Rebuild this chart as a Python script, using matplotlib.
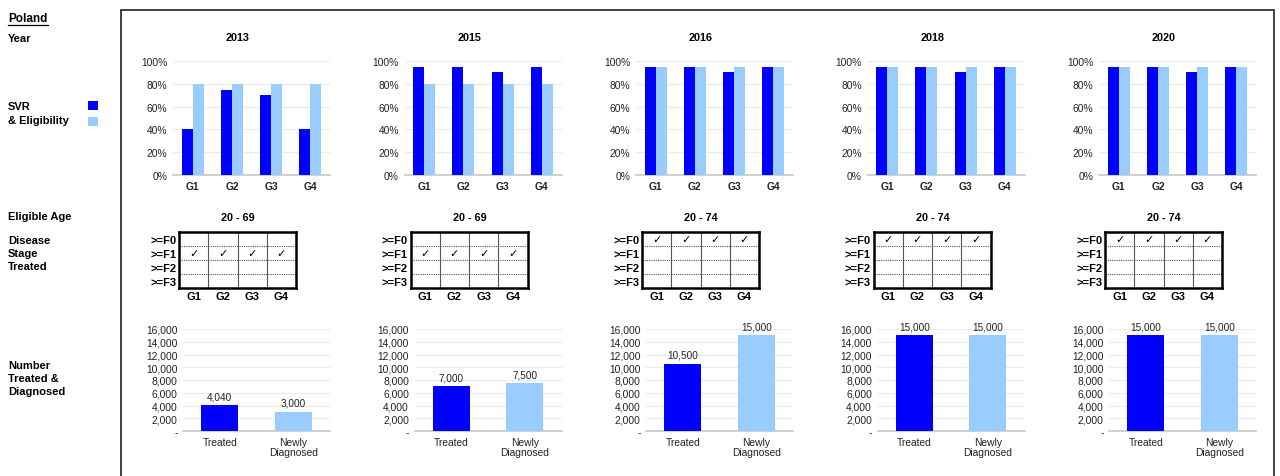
import matplotlib
matplotlib.use("Agg")
import matplotlib.pyplot as plt
from matplotlib.patches import Rectangle
from matplotlib.lines import Line2D
from matplotlib.ticker import FuncFormatter

# data
years = ["2013", "2015", "2016", "2018", "2020"]
groups = ["G1", "G2", "G3", "G4"]
svr = [
    [40, 75, 70, 40],
    [95, 95, 90, 95],
    [95, 95, 90, 95],
    [95, 95, 90, 95],
    [95, 95, 90, 95],
]
eligibility = [
    [80, 80, 80, 80],
    [80, 80, 80, 80],
    [95, 95, 95, 95],
    [95, 95, 95, 95],
    [95, 95, 95, 95],
]
eligible_age = ["20 - 69", "20 - 69", "20 - 74", "20 - 74", "20 - 74"]
stages = [">=F0", ">=F1", ">=F2", ">=F3"]
stage_treated = [">=F1", ">=F1", ">=F0", ">=F0", ">=F0"]
count_labels = ["Treated", "Newly\nDiagnosed"]
treated = [4040, 7000, 10500, 15000, 15000]
diagnosed = [3000, 7500, 15000, 15000, 15000]

DARK = "#0000ff"
LIGHT = "#99ccff"
FONT = ["Liberation Sans", "DejaVu Sans"]
plt.rcParams["font.family"] = FONT

W, H = 1280, 477
fig = plt.figure(figsize=(W / 100, H / 100), dpi=100)


def px_axes(x0, y0, x1, y1):
    # pixel box (top-left origin) -> figure axes
    return fig.add_axes([x0 / W, 1 - y1 / H, (x1 - x0) / W, (y1 - y0) / H])


def fx(x):
    return x / W


def fy(y):
    return 1 - y / H


# frame around the panels
fig.add_artist(Rectangle((fx(121), -0.05), fx(1274) - fx(121), fy(11) + 0.05,
                         transform=fig.transFigure, fill=False,
                         edgecolor="#333333", linewidth=1.3))

# left side labels
fig.text(fx(8), fy(19), "Poland", fontsize=8.5, fontweight="bold", va="center")
fig.add_artist(Line2D([fx(8), fx(48)], [fy(26), fy(26)], color="black", linewidth=0.9,
                      transform=fig.transFigure))
fig.text(fx(8), fy(39), "Year", fontsize=8, fontweight="bold", va="center")
fig.text(fx(8), fy(114), "SVR\n& Eligibility", fontsize=8, fontweight="bold",
         va="center", linespacing=1.47)
fig.add_artist(Rectangle((fx(88), fy(111)), 10 / W, 9 / H, transform=fig.transFigure,
                         facecolor=DARK, edgecolor="none"))
fig.add_artist(Rectangle((fx(88), fy(127)), 10 / W, 9 / H, transform=fig.transFigure,
                         facecolor=LIGHT, edgecolor="none"))
fig.text(fx(8), fy(217), "Eligible Age", fontsize=8, fontweight="bold", va="center")
fig.text(fx(8), fy(254), "Disease\nStage\nTreated", fontsize=8, fontweight="bold",
         va="center", linespacing=1.32)
fig.text(fx(8), fy(379), "Number\nTreated &\nDiagnosed", fontsize=8, fontweight="bold",
         va="center", linespacing=1.32)

step = 231.5
for i, year in enumerate(years):
    off = i * step

    # SVR & eligibility
    ax = px_axes(173 + off, 62, 330 + off, 176)
    pos = list(range(len(groups)))
    w = 0.28
    ax.bar([p - w / 2 for p in pos], svr[i], width=w, color=DARK, zorder=3)
    ax.bar([p + w / 2 for p in pos], eligibility[i], width=w, color=LIGHT, zorder=3)
    ax.set_xlim(-0.5, 3.5)
    ax.set_ylim(0, 100)
    ax.set_yticks([0, 20, 40, 60, 80, 100])
    ax.yaxis.set_major_formatter(FuncFormatter(lambda v, p: f"{v:.0f}%"))
    ax.set_xticks(pos)
    ax.set_xticklabels(groups, fontweight="bold", fontsize=8)
    ax.tick_params(length=0, labelsize=7.4, colors="#222222", pad=4)
    ax.grid(axis="y", color="#ebebeb", linewidth=0.8, zorder=0)
    for s in ["top", "right", "left"]:
        ax.spines[s].set_visible(False)
    ax.spines["bottom"].set_color("#c8c8c8")
    ax.spines["bottom"].set_linewidth(1.2)
    fig.text(fx(238 + off), fy(38), year, fontsize=7.8, fontweight="bold",
             ha="center", va="center")

    # eligible age + disease stage grid
    fig.text(fx(238 + off), fy(218), eligible_age[i], fontsize=7.8, fontweight="bold",
             ha="center", va="center")
    tx = px_axes(179 + off, 233, 296 + off, 289)
    tx.set_xlim(0, 4)
    tx.set_ylim(4, 0)
    for c in range(1, 4):
        tx.axvline(c, color="#555555", linewidth=0.8)
    for r in range(1, 4):
        tx.axhline(r, color="#555555", linewidth=0.8, linestyle=(0, (1, 1)))
    row = stages.index(stage_treated[i])
    for c in range(len(groups)):
        tx.text(c + 0.5, row + 0.5, "\u2713", family=["DejaVu Sans"], fontsize=8,
                fontweight="bold", ha="center", va="center")
    tx.set_xticks([c + 0.5 for c in range(4)])
    tx.set_xticklabels(groups, fontweight="bold")
    tx.set_yticks([r + 0.5 for r in range(4)])
    tx.set_yticklabels(stages, fontweight="bold")
    tx.tick_params(length=0, labelsize=8, pad=2)
    tx.tick_params(axis="x", pad=2)
    for s in tx.spines.values():
        s.set_linewidth(1.8)
        s.set_color("black")

    # treated & diagnosed
    bx = px_axes(183 + off, 330, 330 + off, 432)
    vals = [treated[i], diagnosed[i]]
    bars = bx.bar([0, 1], vals, width=0.5, color=[DARK, LIGHT], zorder=3)
    for b, v in zip(bars, vals):
        bx.annotate(f"{v:,}", (b.get_x() + b.get_width() / 2, v), xytext=(0, 3),
                    textcoords="offset points", ha="center", va="bottom",
                    fontsize=7.2, color="#222222")
    bx.set_xlim(-0.5, 1.5)
    bx.set_ylim(0, 16000)
    bx.set_yticks(range(0, 16001, 2000))
    bx.yaxis.set_major_formatter(FuncFormatter(lambda v, p: "-" if v == 0 else f"{v:,.0f}"))
    bx.set_xticks([0, 1])
    bx.set_xticklabels(count_labels, linespacing=1.1, va="top")
    bx.tick_params(length=0, labelsize=7.4, colors="#222222", pad=4)
    bx.grid(axis="y", color="#ebebeb", linewidth=0.8, zorder=0)
    for s in ["top", "right", "left"]:
        bx.spines[s].set_visible(False)
    bx.spines["bottom"].set_color("#c8c8c8")
    bx.spines["bottom"].set_linewidth(1.2)

fig.savefig("out.png", dpi=100)
